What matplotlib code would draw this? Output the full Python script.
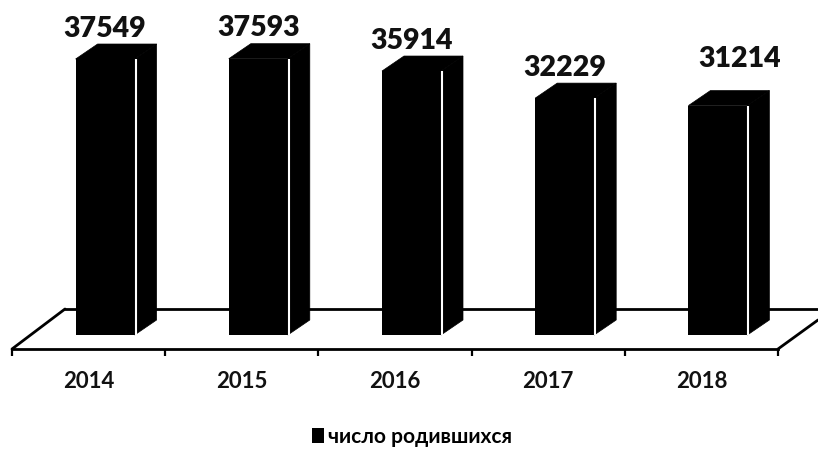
import matplotlib
matplotlib.use("Agg")
import matplotlib.pyplot as plt
from matplotlib.patches import Polygon

plt.rcParams['font.family'] = ['Lato', 'Open Sans', 'DejaVu Sans']

years = ['2014', '2015', '2016', '2017', '2018']
births = [37549, 37593, 35914, 32229, 31214]
series_name = 'число родившихся'

W, H = 818, 450
X0, X1 = 12, 778          # axis ends, px
AXIS_Y = 349              # axis line, px
ZERO_Y = 335              # bar foot, px
PX_PER_UNIT = 0.00735
CAT_PX = (X1 - X0) / len(years)

fig = plt.figure(figsize=(W / 100, H / 100), dpi=100)
ax = fig.add_axes([X0 / W, (H - AXIS_Y) / H, (X1 - X0) / W, AXIS_Y / H])
ax.set_xlim(-0.5, len(years) - 0.5)
ax.set_ylim(-(AXIS_Y - ZERO_Y) / PX_PER_UNIT, ZERO_Y / PX_PER_UNIT)
ax.patch.set_alpha(0)

def dx(px):
    return px / CAT_PX

def dy(px):
    return px / PX_PER_UNIT

# floor, drawn in data space
lw = 2.0
fl = dict(color='black', lw=lw, clip_on=False, zorder=1, solid_capstyle='round')
ax.plot([-0.5, -0.5 + dx(53)], [dy(-14), dy(26)], **fl)
ax.plot([-0.5 + dx(53), 4.5 + dx(40)], [dy(26), dy(26)], **fl)
ax.plot([4.5, 4.5 + dx(40)], [dy(-14), dy(15)], **fl)

# bars with pseudo-3D side and top
OFFSET = 16.5
BAR_W = 59
DEPTH_X, DEPTH_Y = 22, 15
xs = [i + dx(OFFSET) for i in range(len(years))]
bars = ax.bar(xs, births, width=dx(BAR_W), color='black', label=series_name,
              zorder=3, clip_on=False)
for x, v in zip(xs, births):
    l, r = x - dx(BAR_W / 2), x + dx(BAR_W / 2)
    ax.add_patch(Polygon([(r, 0), (r + dx(DEPTH_X), dy(DEPTH_Y)),
                          (r + dx(DEPTH_X), v + dy(DEPTH_Y)), (r, v)],
                         closed=True, fc='black', ec='black', lw=0.5, zorder=3, clip_on=False))
    ax.add_patch(Polygon([(l, v), (l + dx(DEPTH_X), v + dy(DEPTH_Y)),
                          (r + dx(DEPTH_X), v + dy(DEPTH_Y)), (r, v)],
                         closed=True, fc='black', ec='black', lw=0.5, zorder=3, clip_on=False))
    ax.plot([r + dx(1), r + dx(1)], [0, v], color='white', lw=1.5, zorder=4,
            solid_capstyle='butt', clip_on=False)

# value labels
label_shift = [(0, 0), (0, 0), (0, 0), (0, 0), (16, 11.5)]
for x, v, (sx, sy) in zip(xs, births, label_shift):
    ax.annotate(str(v), (x, v), xytext=(sx, 12.4 + sy), textcoords='offset points',
                ha='center', va='bottom', fontsize=20.5, fontweight='heavy', color='#111111',
                annotation_clip=False, zorder=5)

# axis
for s in ['top', 'left', 'right']:
    ax.spines[s].set_visible(False)
ax.spines['bottom'].set_linewidth(lw)
ax.set_yticks([])
ax.set_xticks([i - 0.5 for i in range(len(years) + 1)])
ax.set_xticklabels([])
ax.tick_params(axis='x', which='major', length=5, width=1.6, color='black')
ax.set_xticks(range(len(years)), labels=years, minor=True)
ax.tick_params(axis='x', which='minor', length=0, pad=16, labelsize=16, labelcolor='#111111')
for t in ax.get_xticklabels(minor=True):
    t.set_fontweight('bold')

fig.legend(handles=[bars], labels=[series_name], loc='center',
           bbox_to_anchor=(412 / W, (H - 437) / H), frameon=False,
           prop={'size': 15, 'weight': 'bold'},
           handlelength=0.55, handleheight=0.7, handletextpad=0.2)

fig.savefig('out.png', dpi=100)
